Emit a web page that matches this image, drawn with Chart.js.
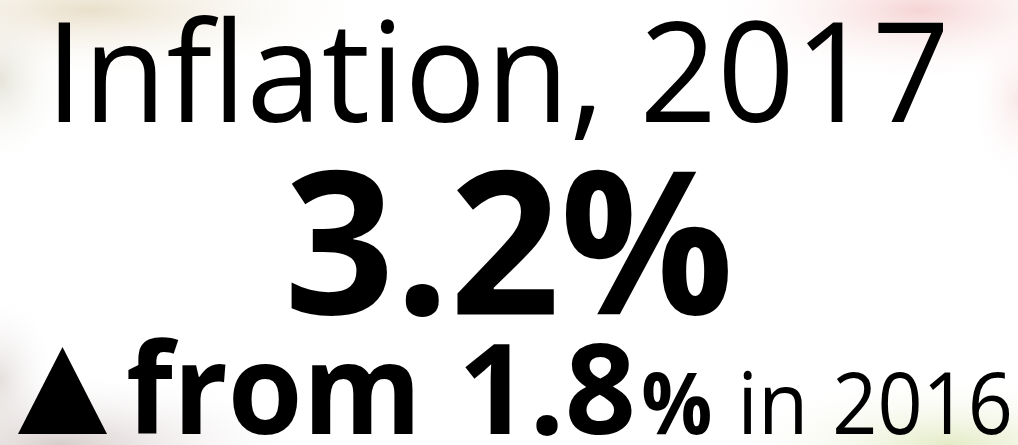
<!DOCTYPE html>
<html>
<head>
<meta charset="utf-8">
<script src="https://cdn.jsdelivr.net/npm/chart.js@4"></script>
<style>
html,body{margin:0;padding:0;background:#fff;}
#wrap{width:1018px;height:445px;position:relative;}
</style>
</head>
<body>
<div id="wrap"><canvas id="c"></canvas></div>
<script>
// ---- data ----
const years = ['2016', '2017'];
const inflation = [1.8, 3.2];
const titleWord = 'Inflation';
const changeWords = ['from', 'in'];

const FONT = '"Open Sans", "Noto Sans", "DejaVu Sans", sans-serif';

function drawRun(ctx, text, weight, size, inkLeft, inkRight, baseline) {
  ctx.save();
  ctx.font = weight + ' ' + size + 'px ' + FONT;
  ctx.textBaseline = 'alphabetic';
  ctx.textAlign = 'left';
  const m = ctx.measureText(text);
  const l = m.actualBoundingBoxLeft;
  const r = m.actualBoundingBoxRight;
  const inkW = r + l;
  const sx = (inkRight - inkLeft) / inkW;
  ctx.translate(inkLeft, baseline);
  ctx.scale(sx, 1);
  ctx.fillStyle = '#000';
  ctx.fillText(text, l, 0);
  ctx.restore();
}

function blob(ctx, x, y, rx, ry, color) {
  ctx.save();
  ctx.translate(x, y);
  ctx.scale(rx / ry, 1);
  const g = ctx.createRadialGradient(0, 0, 0, 0, 0, ry);
  g.addColorStop(0, color);
  g.addColorStop(1, 'rgba(255,255,255,0)');
  ctx.fillStyle = g;
  ctx.beginPath();
  ctx.arc(0, 0, ry, 0, Math.PI * 2);
  ctx.fill();
  ctx.restore();
}

const infographic = {
  id: 'infographic',
  beforeDraw(chart) {
    const ctx = chart.ctx;
    const W = chart.width, H = chart.height;
    ctx.save();
    ctx.fillStyle = '#fff';
    ctx.fillRect(0, 0, W, H);
    // faded photo corners
    blob(ctx, 90, 10, 300, 70, 'rgba(212,192,150,0.50)');
    blob(ctx, 0, 80, 70, 90, 'rgba(200,196,170,0.45)');
    blob(ctx, 920, 10, 220, 75, 'rgba(235,160,160,0.45)');
    blob(ctx, 1018, 100, 50, 90, 'rgba(240,190,190,0.35)');
    blob(ctx, 60, 445, 260, 75, 'rgba(165,145,140,0.45)');
    blob(ctx, 0, 380, 60, 90, 'rgba(180,165,160,0.35)');
    blob(ctx, 950, 445, 230, 70, 'rgba(200,215,140,0.50)');
    ctx.restore();
  },
  afterDraw(chart) {
    const ctx = chart.ctx;
    const cur = inflation[1], prev = inflation[0];
    // line 1
    drawRun(ctx, titleWord + ', ' + years[1], 400, 140, 58, 944, 122);
    // line 2
    drawRun(ctx, cur.toFixed(1) + '%', 700, 200, 291, 729, 314);
    // line 3: up/down arrow
    ctx.save();
    ctx.fillStyle = '#000';
    ctx.beginPath();
    if (cur >= prev) {
      ctx.moveTo(18, 434); ctx.lineTo(107, 434); ctx.lineTo(62.5, 347);
    } else {
      ctx.moveTo(18, 347); ctx.lineTo(107, 347); ctx.lineTo(62.5, 434);
    }
    ctx.closePath();
    ctx.fill();
    ctx.restore();
    drawRun(ctx, changeWords[0], 700, 126, 128, 413, 434);
    drawRun(ctx, prev.toFixed(1), 700, 126, 465, 632, 434);
    drawRun(ctx, '%', 700, 86, 643, 710, 434);
    drawRun(ctx, changeWords[1], 400, 86, 743, 802, 434);
    drawRun(ctx, years[0], 400, 86, 836, 1010, 434);
  }
};

new Chart(document.getElementById('c'), {
  type: 'bar',
  data: {
    labels: years,
    datasets: [{ label: 'Inflation (%)', data: inflation, hidden: true }]
  },
  options: {
    responsive: true,
    maintainAspectRatio: false,
    animation: false,
    events: [],
    layout: { padding: 0 },
    plugins: { legend: { display: false }, tooltip: { enabled: false } },
    scales: { x: { display: false }, y: { display: false } }
  },
  plugins: [infographic]
});
</script>
</body>
</html>
